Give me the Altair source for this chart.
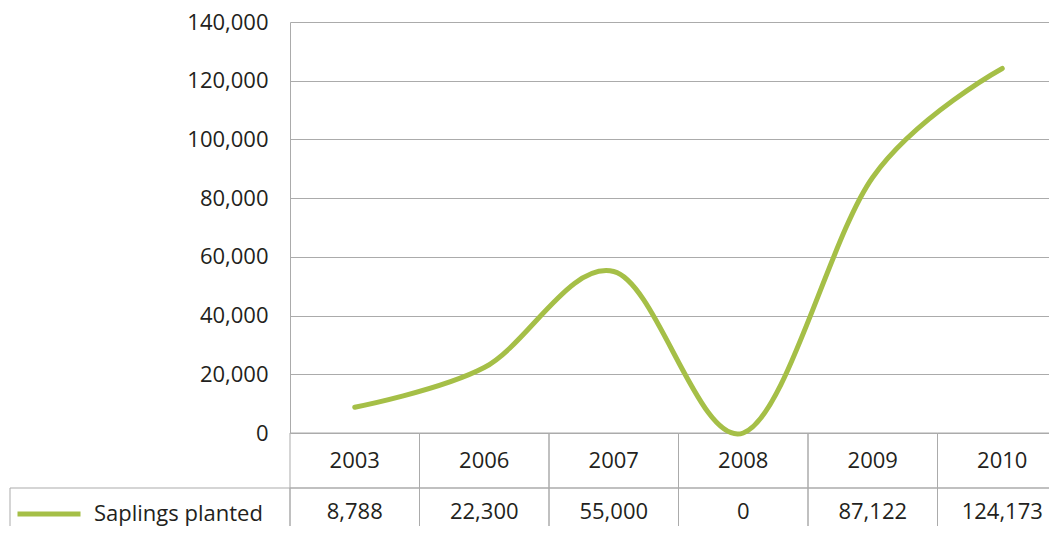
import altair as alt
import pandas as pd

# ---- data ----
years = ["2003", "2006", "2007", "2008", "2009", "2010"]
saplings = [8788, 22300, 55000, 0, 87122, 124173]
value_labels = ["8,788", "22,300", "55,000", "0", "87,122", "124,173"]
series_name = "Saplings planted"
y_ticks = [0, 20000, 40000, 60000, 80000, 100000, 120000, 140000]
rows = ["header", "value"]

# ---- style ----
GREEN = "#a5bf47"
GRID = "#ababab"
TEXT = "#231f20"
FONT = "Open Sans"
FS = 22

W_VIEW = 759          # visible plot width (page limits)
W_FULL = 777          # full width of the six columns (right part cropped)
H_PLOT = 411          # line plot height
ROW = 55              # table row height
H_VIEW = 504

line_df = pd.DataFrame({"year": years, "value": saplings, "series": series_name})
table_df = pd.DataFrame({
    "year": years + years,
    "row": ["header"] * len(years) + ["value"] * len(years),
    "label": years + value_labels,
})

x_band = alt.X("year:N", sort=years, axis=None,
               scale=alt.Scale(type="band", domain=years, range=[0, W_FULL],
                               paddingInner=0, paddingOuter=0))
y_band = alt.Y("row:N", axis=None,
               scale=alt.Scale(type="band", domain=rows, range=[H_PLOT, H_PLOT + 2 * ROW],
                               paddingInner=0, paddingOuter=0))

line = alt.Chart(line_df).mark_line(
    interpolate="cardinal", strokeWidth=5, strokeCap="round"
).encode(
    x=alt.X("year:N", sort=years, axis=None,
            scale=alt.Scale(type="point", domain=years, range=[0, W_FULL], padding=0.5)),
    y=alt.Y("value:Q",
            scale=alt.Scale(domain=[0, 140000], range=[H_PLOT, 0], nice=False, zero=True),
            axis=alt.Axis(values=y_ticks, format=",.0f", title=None, ticks=False,
                          labelPadding=22, grid=True, gridColor=GRID, gridWidth=1,
                          domain=True, domainColor=GRID, domainWidth=1,
                          labelFontSize=FS, labelColor=TEXT, labelFont=FONT)),
    color=alt.Color("series:N",
                    scale=alt.Scale(domain=[series_name], range=[GREEN]),
                    legend=alt.Legend(title=None, orient="none", legendX=-275, legendY=458,
                                      symbolType="stroke", symbolSize=3969,
                                      symbolStrokeWidth=5, labelFontSize=FS,
                                      labelFont=FONT, labelColor=TEXT, labelOffset=11,
                                      labelLimit=400, padding=0)),
)

cells = alt.Chart(table_df).mark_rect(
    stroke=GRID, strokeWidth=1, fill="white", fillOpacity=0
).encode(x=x_band, y=y_band)

legend_cell = alt.Chart(pd.DataFrame({"row": ["value"]})).mark_rect(
    stroke=GRID, strokeWidth=1, fill="white", fillOpacity=0
).encode(x=alt.value(-280), x2=alt.value(0), y=y_band)

header_text = alt.Chart(table_df).transform_filter(
    alt.datum.row == "header"
).mark_text(font=FONT, fontSize=FS, color=TEXT, baseline="middle").encode(
    x=x_band, y=y_band, text="label:N")

value_text = alt.Chart(table_df).transform_filter(
    alt.datum.row == "value"
).mark_text(font=FONT, fontSize=FS, color=TEXT, baseline="middle", dy=-4).encode(
    x=x_band, y=y_band, text="label:N")

chart = alt.layer(cells, legend_cell, header_text, value_text, line).resolve_scale(
    x="independent", y="independent", color="independent"
).properties(
    width=W_VIEW, height=H_VIEW,
    autosize=alt.AutoSizeParams(type="none"),
    padding={"left": 282, "top": 14, "right": 0, "bottom": 0},
    background="white",
).configure_view(stroke=None)

chart.save("out.html", embed_options={"renderer": "svg", "actions": False})
